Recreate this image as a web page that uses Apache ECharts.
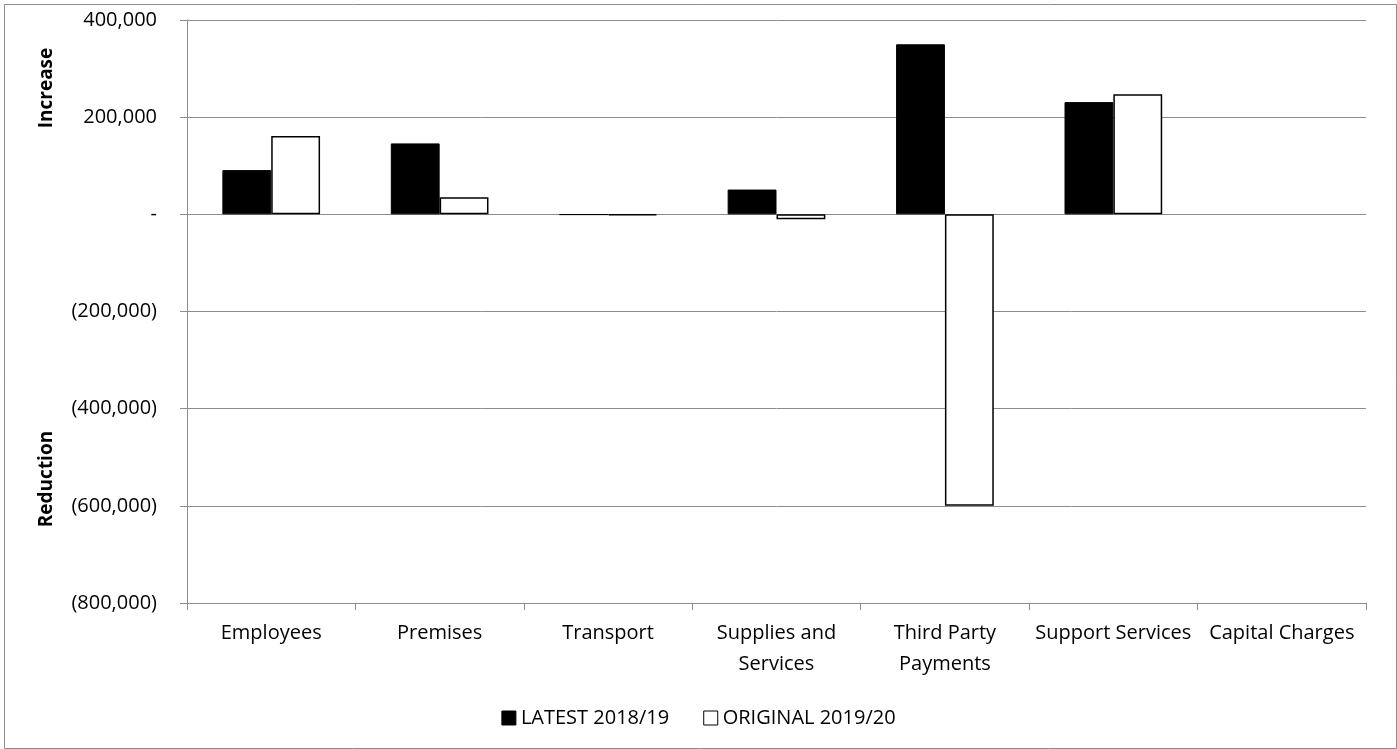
<!DOCTYPE html>
<html>
<head>
<meta charset="utf-8">
<script src="https://cdn.jsdelivr.net/npm/echarts@6/dist/echarts.min.js"></script>
<style>
  html, body { margin: 0; padding: 0; background: #fff; }
  #chart { width: 1397px; height: 749px; }
</style>
</head>
<body>
<div id="chart"></div>
<script>
const categories = ['Employees', 'Premises', 'Transport', 'Supplies and\nServices', 'Third Party\nPayments', 'Support Services', 'Capital Charges'];
const latest = [91000, 146000, -1000, 51000, 350000, 231000, 0];
const original = [161000, 35000, -2000, -10000, -600000, 247000, 0];
const yTicks = [-800000, -600000, -400000, -200000, 0, 200000, 400000];

const FONT = '"Open Sans", sans-serif';

// Excel-style accounting format: zero shows as "-", negatives in brackets
const fmt = v => {
  if (v === 0) return '-';
  const s = Math.abs(v).toLocaleString('en-US');
  return v < 0 ? '(' + s + ')' : s;
};
// a zero value draws no bar at all in the original
const bars = arr => arr.map(v => (v === 0 ? null : v));

const chart = echarts.init(document.getElementById('chart'));

chart.setOption({
  animation: false,
  backgroundColor: '#fff',
  textStyle: { fontFamily: FONT },
  graphic: [
    {
      type: 'rect', left: 2, top: 2,
      shape: { width: 1392, height: 744 },
      style: { fill: 'none', stroke: '#8c8c8c', lineWidth: 1 }
    },
    {
      type: 'text', x: 47, y: 88, rotation: Math.PI / 2,
      style: { text: 'Increase', fontSize: 19, fontWeight: 'bold', fontFamily: FONT, fill: '#000', align: 'center', verticalAlign: 'middle' }
    },
    {
      type: 'text', x: 47, y: 479, rotation: Math.PI / 2,
      style: { text: 'Reduction', fontSize: 19, fontWeight: 'bold', fontFamily: FONT, fill: '#000', align: 'center', verticalAlign: 'middle' }
    }
  ],
  legend: {
    top: 703,
    left: 'center',
    itemWidth: 14,
    itemHeight: 14,
    itemGap: 34,
    icon: 'rect',
    textStyle: { fontSize: 20, color: '#000', fontFamily: FONT },
    data: [
      { name: 'LATEST 2018/19', itemStyle: { color: '#000', borderColor: '#000', borderWidth: 1 } },
      { name: 'ORIGINAL 2019/20', itemStyle: { color: '#fff', borderColor: '#000', borderWidth: 1 } }
    ]
  },
  grid: { left: 187, right: 31, top: 20, bottom: 146, containLabel: false },
  xAxis: [
    {
      type: 'category',
      data: categories,
      position: 'bottom',
      axisLine: { show: false },
      axisTick: { show: false },
      axisLabel: { interval: 0, hideOverlap: false, fontSize: 20, color: '#000', margin: 15, lineHeight: 31, fontFamily: FONT }
    },
    {
      type: 'category',
      data: categories,
      position: 'bottom',
      axisLine: { onZero: true, lineStyle: { color: '#8c8c8c', width: 1 } },
      axisTick: { show: true, length: 7, inside: false, lineStyle: { color: '#8c8c8c' } },
      axisLabel: { show: false }
    }
  ],
  yAxis: {
    type: 'value',
    min: -800000,
    max: 400000,
    interval: 200000,
    axisLine: { show: true, lineStyle: { color: '#8c8c8c' } },
    axisTick: { show: true, length: 7, lineStyle: { color: '#8c8c8c' } },
    splitLine: { lineStyle: { color: '#8c8c8c', width: 1 } },
    axisLabel: {
      fontSize: 20, color: '#000', margin: 30, fontFamily: FONT,
      formatter: v => yTicks.includes(v) ? fmt(v) : ''
    }
  },
  series: [
    {
      name: 'LATEST 2018/19',
      type: 'bar',
      xAxisIndex: 0,
      data: bars(latest),
      barGap: '0%',
      barCategoryGap: '42%',
      itemStyle: { color: '#000', borderColor: '#000', borderWidth: 1 }
    },
    {
      name: 'ORIGINAL 2019/20',
      type: 'bar',
      xAxisIndex: 0,
      data: bars(original),
      barGap: '0%',
      barCategoryGap: '42%',
      itemStyle: { color: '#fff', borderColor: '#000', borderWidth: 1.5 }
    }
  ]
});
</script>
</body>
</html>
